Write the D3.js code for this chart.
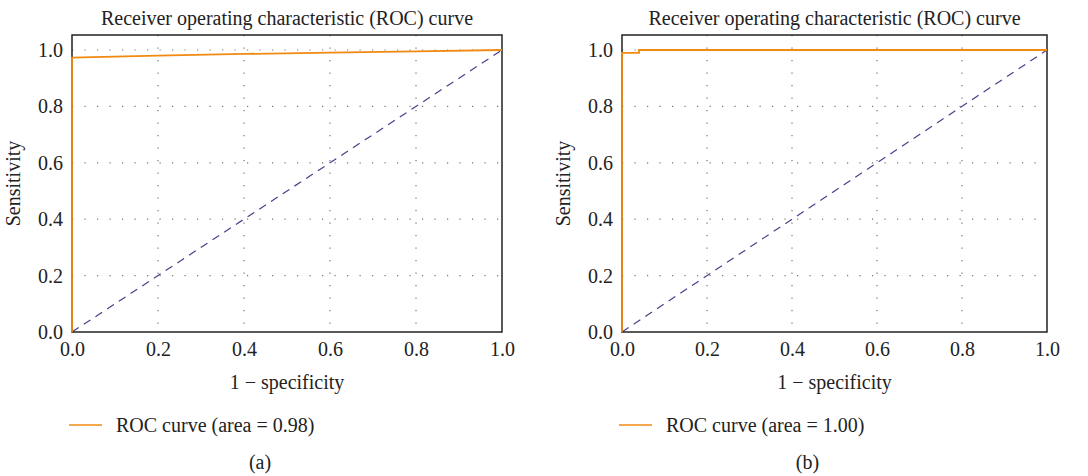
<!DOCTYPE html>
<html><head><meta charset="utf-8">
<script src="https://cdn.jsdelivr.net/npm/d3@7"></script>
<style>body{margin:0;background:#fff}svg text{font-family:"Liberation Serif","DejaVu Serif",serif;fill:#222}</style>
</head><body><svg id="c" width="1088" height="476"></svg>
<script>
const ticks = [0, 0.2, 0.4, 0.6, 0.8, 1.0];
const rocA_fpr = [0, 0, 0.2, 0.4, 0.6, 0.8, 1.0];
const rocA_tpr = [0, 0.973, 0.98, 0.986, 0.991, 0.995, 1.0];
const rocB_fpr = [0, 0, 0.04, 0.04, 1.0];
const rocB_tpr = [0, 0.99, 0.99, 1.0, 1.0];
const diag = [0, 1];
const titles = ["Receiver operating characteristic (ROC) curve", "Receiver operating characteristic (ROC) curve"];
const legends = ["ROC curve (area = 0.98)", "ROC curve (area = 1.00)"];
const panelLabels = ["(a)", "(b)"];

const FS = 20;
const svg = d3.select("#c");
const panels = [
  {x0: 72, x1: 502, fpr: rocA_fpr, tpr: rocA_tpr},
  {x0: 622, x1: 1047, fpr: rocB_fpr, tpr: rocB_tpr}
];
const yTop = 35, yBot = 332;
panels.forEach((p, i) => {
  const x = d3.scaleLinear().domain([0, 1]).range([p.x0, p.x1]);
  const y = d3.scaleLinear().domain([0, 1]).range([yBot, 50]);
  const g = svg.append("g");
  ticks.filter(t => t > 0 && t < 1).forEach(t => {
    g.append("line").attr("x1", x(t)).attr("x2", x(t)).attr("y1", yTop).attr("y2", yBot)
      .attr("stroke", "#777").attr("stroke-width", 1.2).attr("stroke-dasharray", "1.2,11.3");
  });
  ticks.filter(t => t > 0).forEach(t => {
    g.append("line").attr("x1", p.x0).attr("x2", p.x1).attr("y1", y(t)).attr("y2", y(t))
      .attr("stroke", "#777").attr("stroke-width", 1.2).attr("stroke-dasharray", "1.2,11.3");
  });
  g.append("line").attr("x1", x(diag[0])).attr("y1", y(diag[0])).attr("x2", x(diag[1])).attr("y2", y(diag[1]))
    .attr("stroke", "#4a3f8c").attr("stroke-width", 1.2).attr("stroke-dasharray", "8,6");
  g.append("rect").attr("x", p.x0).attr("y", yTop).attr("width", p.x1 - p.x0).attr("height", yBot - yTop)
    .attr("fill", "none").attr("stroke", "#222").attr("stroke-width", 1.5);
  const pts = p.fpr.map((f, k) => [f, p.tpr[k]]);
  g.append("path").attr("d", d3.line().x(d => x(d[0])).y(d => y(d[1]))(pts))
    .attr("fill", "none").attr("stroke", "#f08a10").attr("stroke-width", 1.8);
  const xa = g.append("g").attr("transform", `translate(0,${yBot})`)
    .call(d3.axisBottom(x).tickValues(ticks).tickFormat(d3.format(".1f")).tickSize(0).tickPadding(10));
  xa.select(".domain").remove();
  xa.selectAll("text").attr("font-size", FS).style("font-family", "Liberation Serif").attr("fill", "#222");
  const ya = g.append("g").attr("transform", `translate(${p.x0},0)`)
    .call(d3.axisLeft(y).tickValues(ticks).tickFormat(d3.format(".1f")).tickSize(0).tickPadding(9));
  ya.select(".domain").remove();
  ya.selectAll("text").attr("font-size", FS).style("font-family", "Liberation Serif").attr("fill", "#222");
  const cx = (p.x0 + p.x1) / 2;
  g.append("text").attr("x", cx).attr("y", 25).attr("text-anchor", "middle").attr("font-size", FS).text(titles[i]);
  g.append("text").attr("x", cx).attr("y", 389).attr("text-anchor", "middle").attr("font-size", FS).text("1 − specificity");
  g.append("text").attr("transform", `translate(${p.x0 - 52},${(yTop + yBot) / 2}) rotate(-90)`)
    .attr("text-anchor", "middle").attr("font-size", FS).text("Sensitivity");
  g.append("line").attr("x1", p.x0 - 3).attr("x2", p.x0 + 30).attr("y1", 425).attr("y2", 425)
    .attr("stroke", "#f08a10").attr("stroke-width", 1.5);
  g.append("text").attr("x", p.x0 + 44).attr("y", 432).attr("font-size", FS).text(legends[i]);
  g.append("text").attr("x", (p.x0 + p.x1) / 2 - 27).attr("y", 469).attr("text-anchor", "middle").attr("font-size", FS).text(panelLabels[i]);
});
</script></body></html>
